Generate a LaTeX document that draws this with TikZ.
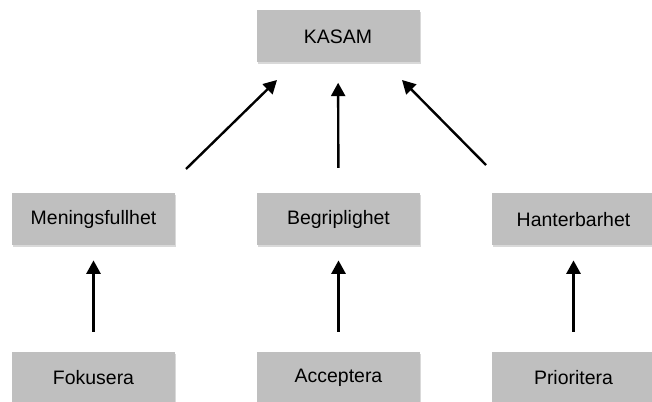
\documentclass[tikz,border=0pt]{standalone}
\usepackage{fontspec}
\setmainfont{Liberation Sans}
\usepackage{xcolor}
\usetikzlibrary{arrows.meta,shadows}

\tikzset{
    box/.style={align=center, minimum width=163*0.75pt, minimum height=52*0.75pt, inner sep=0pt,
        fill=black!25, font=\fontsize{14.6}{17}\selectfont,
        drop shadow={shadow xshift=0.8pt, shadow yshift=-1.2pt, opacity=0.3}},
    arr/.style={-{Triangle[length=10pt, width=10.5pt]}, line width=1.8pt}
}

\begin{document}
\begin{tikzpicture}[x=0.75pt,y=0.75pt,yscale=-1,xscale=1]

    \useasboundingbox (0,0) rectangle (652,402);

    \draw (338,36.5) node [box] (kasam) {KASAM};
    \draw (93.5,219.5) node [box] (men) {Meningsfullhet};
    \draw (338.5,219.5) node [box] (beg) {Begriplighet};
    \draw (573.5,219.5) node [box] (han) {Hanterbarhet};
    \draw (93.5,378) node [box] (fok) {Fokusera};
    \draw (338.5,378) node [box] (acc) {Acceptera};
    \draw (573.5,378) node [box] (pri) {Prioritera};

    \coordinate (mtail) at (186,169);
    \coordinate (mtip) at (277,80);
    \coordinate (htail) at (486,165);
    \coordinate (htip) at (402,80);

    \draw [arr] (mtail) -- (mtip);
    \draw [arr, shorten <=19pt, shorten >=15pt] (beg) -- (kasam);
    \draw [arr] (htail) -- (htip);
    \draw [arr, shorten <=15pt, shorten >=11pt] (fok) -- (men);
    \draw [arr, shorten <=15pt, shorten >=11pt] (acc) -- (beg);
    \draw [arr, shorten <=15pt, shorten >=11pt] (pri) -- (han);

\end{tikzpicture}
\end{document}
